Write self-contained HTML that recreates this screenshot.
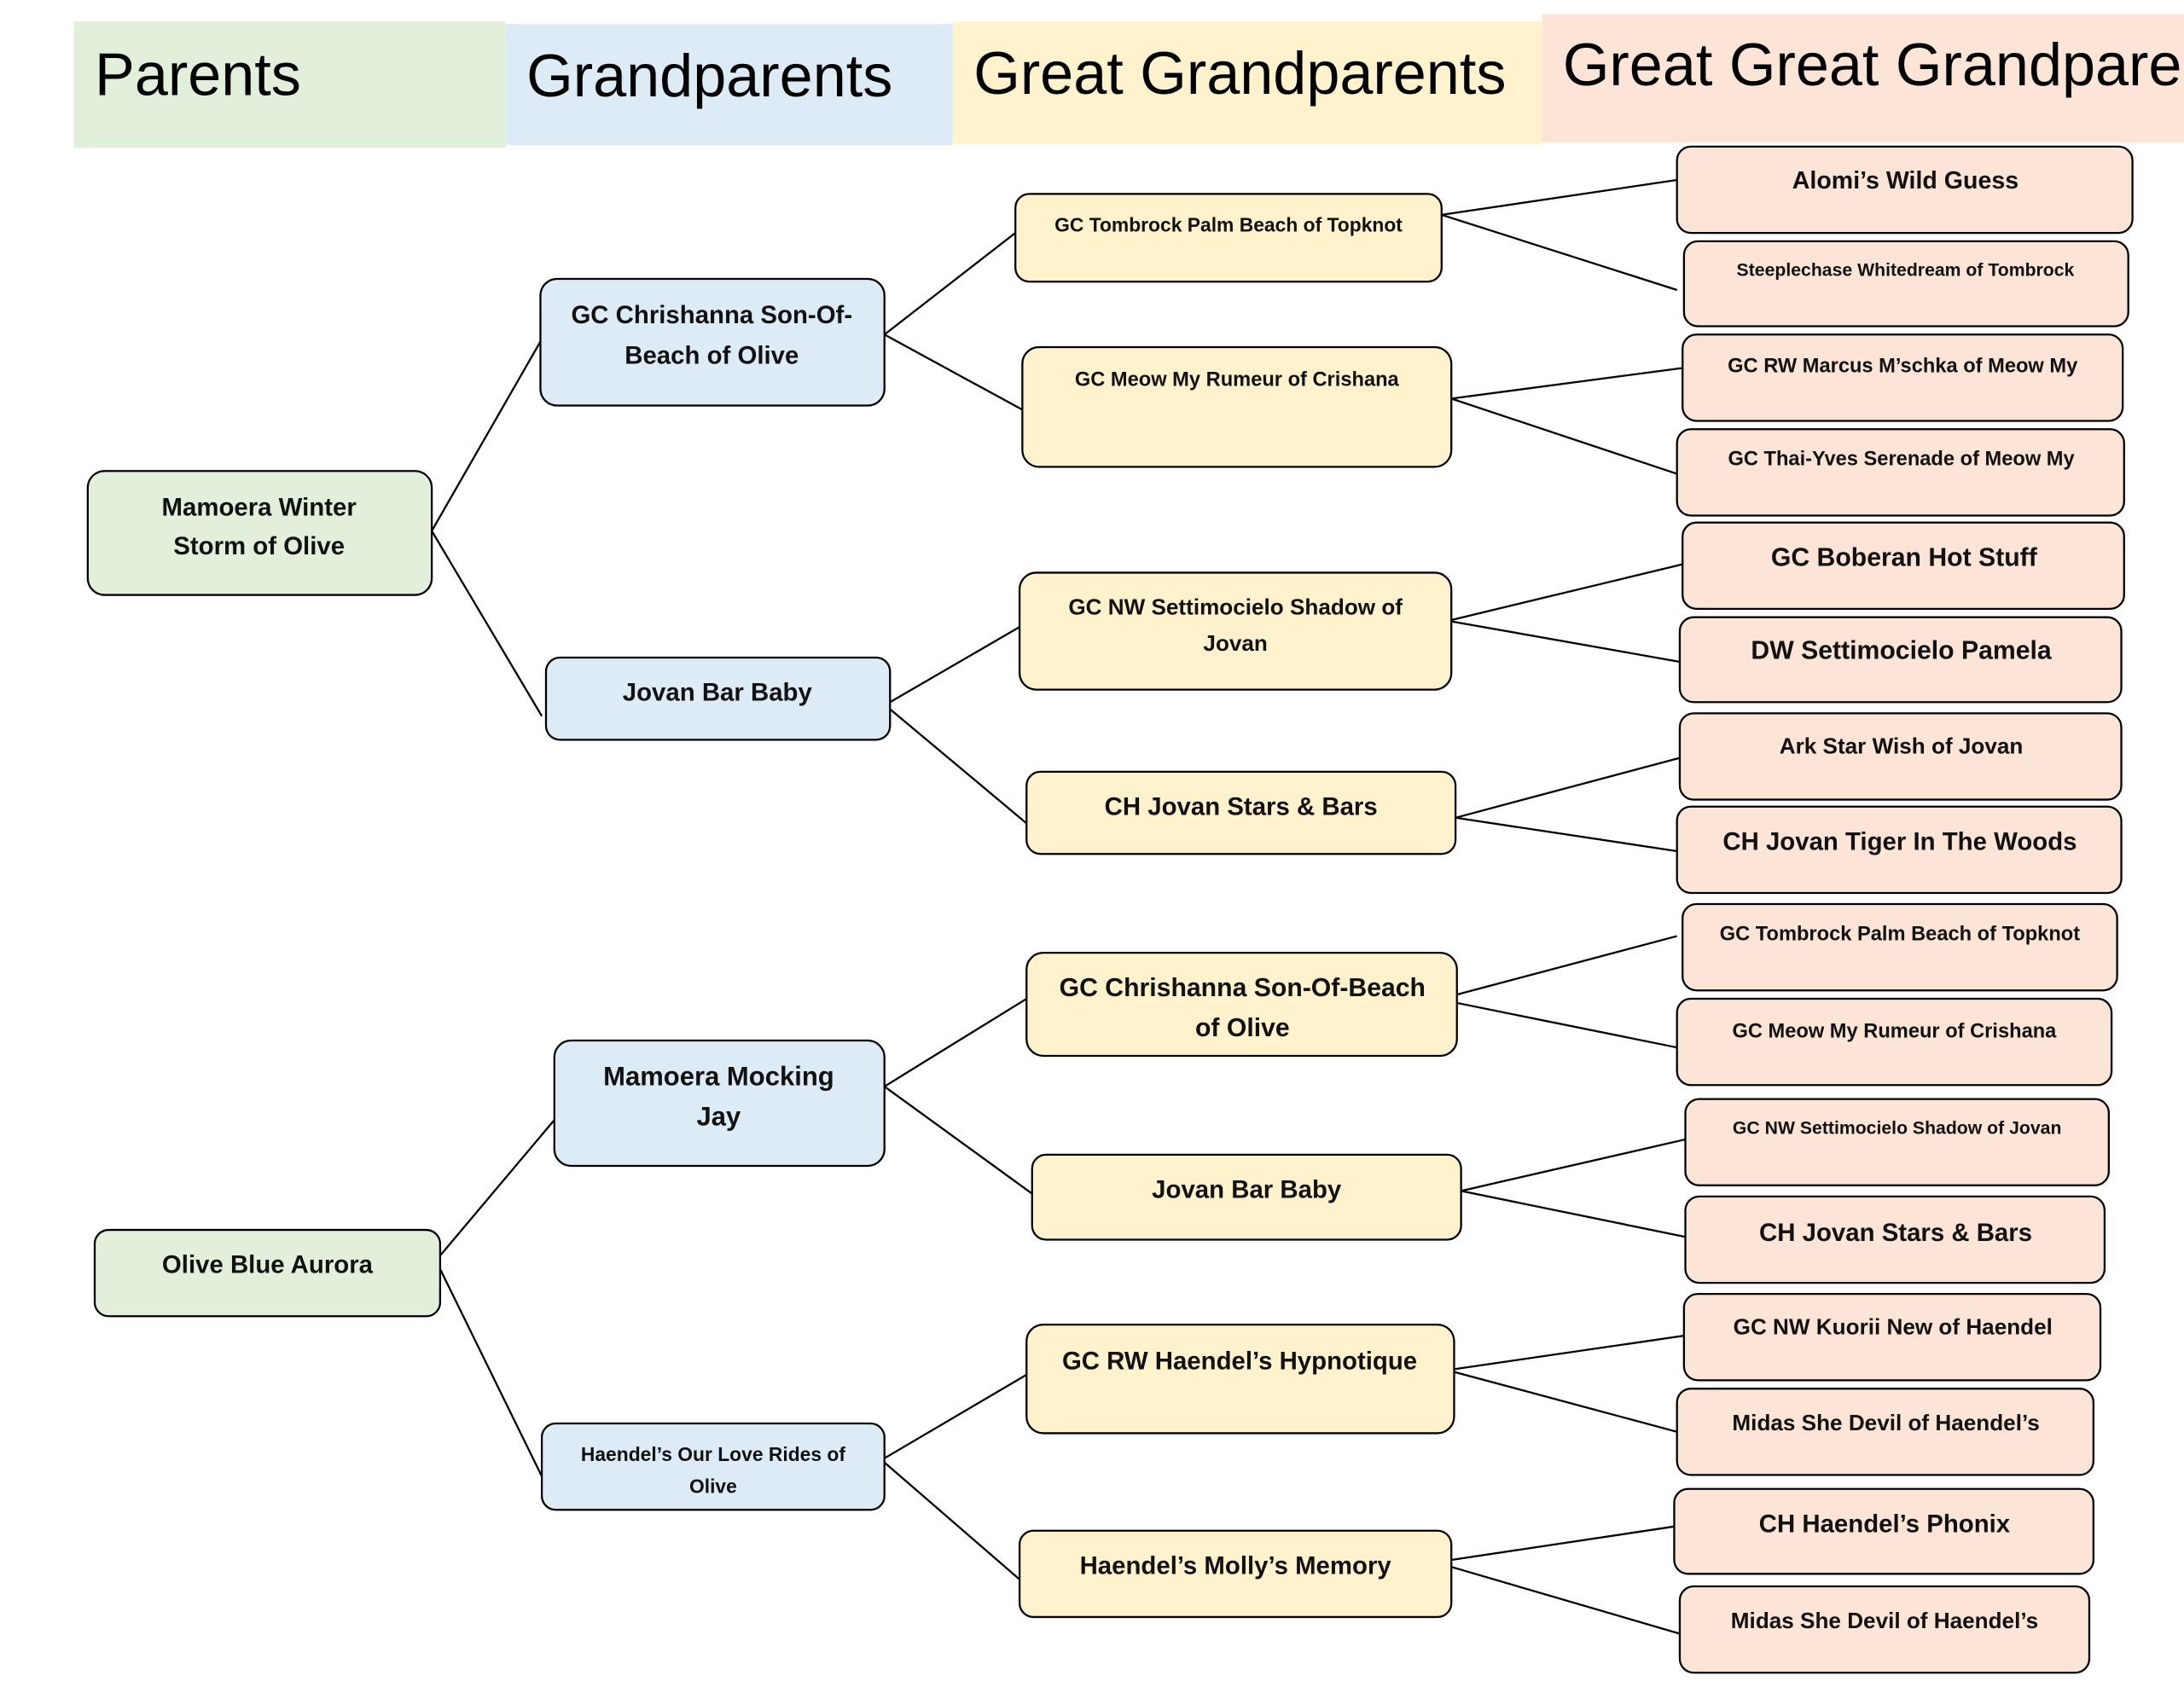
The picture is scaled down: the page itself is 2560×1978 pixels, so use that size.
<!DOCTYPE html>
<html><head><meta charset="utf-8"><style>
html,body{margin:0;padding:0;background:#fff;}
svg{display:block;}
text{font-family:"Liberation Sans",sans-serif;}
.h{font-size:43px;fill:#000;}
.n{font-weight:bold;fill:#111;text-anchor:middle;}
rect.b{stroke:#000;stroke-width:1.4;}
line{stroke:#000;stroke-width:1.4;}
</style></head><body>
<svg width="2560" height="1978" viewBox="0 0 1568 1211" xmlns="http://www.w3.org/2000/svg">
<rect x="0" y="0" width="1568" height="1211" fill="#fff"/>
<rect x="53" y="15" width="310" height="91" fill="#e2efda"/>
<rect x="363" y="17" width="321" height="87" fill="#ddebf7"/>
<rect x="684" y="15" width="423" height="88" fill="#fff2cc"/>
<rect x="1107" y="10" width="461" height="92" fill="#fce4d6"/>
<text class="h" x="68" y="68">Parents</text>
<text class="h" x="378" y="69">Grandparents</text>
<text class="h" x="699" y="67">Great Grandparents</text>
<text class="h" x="1122" y="61">Great Great Grandparents</text>
<line x1="310" y1="381" x2="388" y2="245"/><line x1="310" y1="381" x2="389" y2="514"/>
<line x1="313" y1="905" x2="398" y2="804"/><line x1="313" y1="905" x2="389" y2="1060"/>
<line x1="635" y1="240" x2="729" y2="167"/><line x1="635" y1="240" x2="734" y2="294"/>
<line x1="639" y1="504" x2="732" y2="450"/><line x1="639" y1="509" x2="737" y2="591"/>
<line x1="635" y1="780" x2="737" y2="717"/><line x1="635" y1="780" x2="741" y2="857"/>
<line x1="635" y1="1047" x2="737" y2="987"/><line x1="635" y1="1050" x2="732" y2="1134"/>
<line x1="1035" y1="154" x2="1204" y2="129"/><line x1="1035" y1="154" x2="1204" y2="208"/>
<line x1="1042" y1="286" x2="1208" y2="264"/><line x1="1042" y1="286" x2="1204" y2="340"/>
<line x1="1042" y1="445" x2="1208" y2="405"/><line x1="1042" y1="446" x2="1206" y2="475"/>
<line x1="1045" y1="587" x2="1206" y2="544"/><line x1="1045" y1="587" x2="1204" y2="611"/>
<line x1="1046" y1="714" x2="1204" y2="672"/><line x1="1046" y1="720" x2="1204" y2="752"/>
<line x1="1049" y1="855" x2="1210" y2="818"/><line x1="1049" y1="855" x2="1210" y2="888"/>
<line x1="1044" y1="983" x2="1209" y2="959"/><line x1="1044" y1="985" x2="1204" y2="1028"/>
<line x1="1042" y1="1120" x2="1202" y2="1096"/><line x1="1042" y1="1125" x2="1206" y2="1173"/>
<g fill="#e2efda">
<rect class="b" x="63" y="338" width="247" height="89" rx="12"/>
<rect class="b" x="68" y="883" width="248" height="62" rx="10"/>
</g>
<text class="n" font-size="18" x="186" y="370">Mamoera Winter</text>
<text class="n" font-size="18" x="186" y="398">Storm of Olive</text>
<text class="n" font-size="18" x="192" y="914">Olive Blue Aurora</text>
<g fill="#ddebf7">
<rect class="b" x="388" y="200" width="247" height="91" rx="12"/>
<rect class="b" x="392" y="472" width="247" height="59" rx="10"/>
<rect class="b" x="398" y="747" width="237" height="90" rx="12"/>
<rect class="b" x="389" y="1022" width="246" height="62" rx="10"/>
</g>
<text class="n" font-size="18" x="511" y="232">GC Chrishanna Son-Of-</text>
<text class="n" font-size="18" x="511" y="261">Beach of Olive</text>
<text class="n" font-size="18" x="515" y="503">Jovan Bar Baby</text>
<text class="n" font-size="19" x="516" y="779">Mamoera Mocking</text>
<text class="n" font-size="19" x="516" y="808">Jay</text>
<text class="n" font-size="14" x="512" y="1049">Haendel’s Our Love Rides of</text>
<text class="n" font-size="14" x="512" y="1072">Olive</text>
<g fill="#fff2cc">
<rect class="b" x="729" y="139" width="306" height="63" rx="10"/>
<rect class="b" x="734" y="249" width="308" height="86" rx="12"/>
<rect class="b" x="732" y="411" width="310" height="84" rx="12"/>
<rect class="b" x="737" y="554" width="308" height="59" rx="10"/>
<rect class="b" x="737" y="684" width="309" height="74" rx="12"/>
<rect class="b" x="741" y="829" width="308" height="61" rx="10"/>
<rect class="b" x="737" y="951" width="307" height="78" rx="12"/>
<rect class="b" x="732" y="1099" width="310" height="62" rx="10"/>
</g>
<text class="n" font-size="14" x="882" y="166">GC Tombrock Palm Beach of Topknot</text>
<text class="n" font-size="14.5" x="888" y="277">GC Meow My Rumeur of Crishana</text>
<text class="n" font-size="16" x="887" y="441">GC NW Settimocielo Shadow of</text>
<text class="n" font-size="16" x="887" y="467">Jovan</text>
<text class="n" font-size="18" x="891" y="585">CH Jovan Stars &amp; Bars</text>
<text class="n" font-size="18.5" x="892" y="715">GC Chrishanna Son-Of-Beach</text>
<text class="n" font-size="18.5" x="892" y="744">of Olive</text>
<text class="n" font-size="18" x="895" y="860">Jovan Bar Baby</text>
<text class="n" font-size="18" x="890" y="983">GC RW Haendel’s Hypnotique</text>
<text class="n" font-size="18" x="887" y="1130">Haendel’s Molly’s Memory</text>
<g fill="#fce4d6">
<rect class="b" x="1204" y="105" width="327" height="62" rx="10"/>
<rect class="b" x="1209" y="173" width="319" height="61" rx="10"/>
<rect class="b" x="1208" y="240" width="316" height="62" rx="10"/>
<rect class="b" x="1204" y="308" width="321" height="62" rx="10"/>
<rect class="b" x="1208" y="375" width="317" height="62" rx="10"/>
<rect class="b" x="1206" y="443" width="317" height="61" rx="10"/>
<rect class="b" x="1206" y="512" width="317" height="62" rx="10"/>
<rect class="b" x="1204" y="579" width="319" height="62" rx="10"/>
<rect class="b" x="1208" y="649" width="312" height="62" rx="10"/>
<rect class="b" x="1204" y="717" width="312" height="62" rx="10"/>
<rect class="b" x="1210" y="789" width="304" height="62" rx="10"/>
<rect class="b" x="1210" y="859" width="301" height="62" rx="10"/>
<rect class="b" x="1209" y="929" width="299" height="62" rx="10"/>
<rect class="b" x="1204" y="997" width="299" height="62" rx="10"/>
<rect class="b" x="1202" y="1069" width="301" height="61" rx="10"/>
<rect class="b" x="1206" y="1139" width="294" height="62" rx="10"/>
</g>
<text class="n" font-size="17.5" x="1368" y="135">Alomi’s Wild Guess</text>
<text class="n" font-size="13" x="1368" y="198">Steeplechase Whitedream of Tombrock</text>
<text class="n" font-size="14.5" x="1366" y="267">GC RW Marcus M’schka of Meow My</text>
<text class="n" font-size="14.5" x="1365" y="334">GC Thai-Yves Serenade of Meow My</text>
<text class="n" font-size="18.5" x="1367" y="406">GC Boberan Hot Stuff</text>
<text class="n" font-size="18.5" x="1365" y="473">DW Settimocielo Pamela</text>
<text class="n" font-size="16" x="1365" y="541">Ark Star Wish of Jovan</text>
<text class="n" font-size="18" x="1364" y="610">CH Jovan Tiger In The Woods</text>
<text class="n" font-size="14.5" x="1364" y="675">GC Tombrock Palm Beach of Topknot</text>
<text class="n" font-size="14.5" x="1360" y="745">GC Meow My Rumeur of Crishana</text>
<text class="n" font-size="13" x="1362" y="814">GC NW Settimocielo Shadow of Jovan</text>
<text class="n" font-size="18" x="1361" y="891">CH Jovan Stars &amp; Bars</text>
<text class="n" font-size="16" x="1359" y="958">GC NW Kuorii New of Haendel</text>
<text class="n" font-size="16" x="1354" y="1027">Midas She Devil of Haendel’s</text>
<text class="n" font-size="18" x="1353" y="1100">CH Haendel’s Phonix</text>
<text class="n" font-size="16" x="1353" y="1169">Midas She Devil of Haendel’s</text>
</svg>
</body></html>
